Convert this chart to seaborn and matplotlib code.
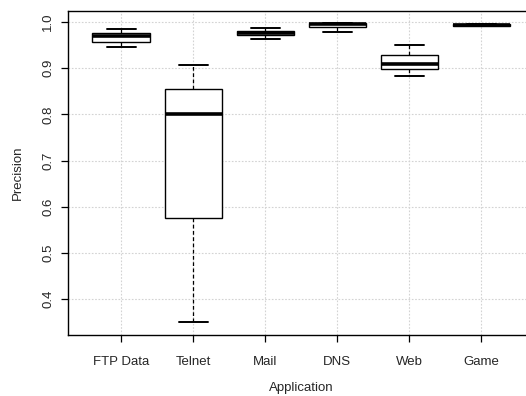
import pandas as pd
import seaborn as sns
import matplotlib.pyplot as plt

# values: min, q1, median, q3, max per application
categories = ['FTP Data', 'Telnet', 'Mail', 'DNS', 'Web', 'Game']
ftp_data = [0.946, 0.957, 0.969, 0.976, 0.984]
telnet = [0.351, 0.576, 0.802, 0.855, 0.908]
mail = [0.963, 0.971, 0.976, 0.980, 0.986]
dns = [0.978, 0.989, 0.996, 0.997, 0.998]
web = [0.883, 0.898, 0.910, 0.929, 0.950]
game = [0.991, 0.992, 0.994, 0.995, 0.996]
y_ticks = [0.4, 0.5, 0.6, 0.7, 0.8, 0.9, 1.0]

values = [ftp_data, telnet, mail, dns, web, game]
df = pd.DataFrame({
    'Application': [c for c, v in zip(categories, values) for _ in v],
    'Precision': [x for v in values for x in v],
})

sns.set_style('white')
plt.rcParams['font.family'] = ['Liberation Sans', 'DejaVu Sans']
plt.rcParams['font.size'] = 9.5

fig = plt.figure(figsize=(5.26, 3.96), dpi=100)
ax = fig.add_axes([68 / 526, 61 / 396, 466.7 / 526, 324 / 396])

sns.boxplot(data=df, x='Application', y='Precision', order=categories, ax=ax,
            color='white', linecolor='black', saturation=1, width=0.8,
            linewidth=1.0, whis=(0, 100), showfliers=False,
            medianprops={'linewidth': 2.6, 'color': 'black'},
            whiskerprops={'linestyle': (0, (3, 2)), 'linewidth': 0.9},
            capprops={'linewidth': 1.4})

# dotted light grey grid underneath the boxes (after seaborn, which turns x grid off)
ax.set_axisbelow(True)
ax.grid(True, axis='both', color='lightgray', linestyle=(0, (1.5, 1.5)), linewidth=0.8)

ax.set_xlim(-0.74, 5.74)
ax.set_ylim(0.3227, 1.0238)
ax.set_yticks(y_ticks)
ax.set_yticklabels([f'{t:.1f}' for t in y_ticks], rotation=90, va='center')
for s in ax.spines.values():
    s.set_color('black')
    s.set_linewidth(1.0)
ax.tick_params(axis='both', direction='out', length=5, width=0.9, color='black',
               labelsize=9.5, bottom=True, left=True)
ax.tick_params(axis='x', pad=10)
ax.tick_params(axis='y', pad=5)
ax.set_xlabel('Application', fontsize=9.5, labelpad=10)
ax.set_ylabel('Precision', fontsize=9.5, labelpad=13)

fig.savefig('out.png', dpi=100)
